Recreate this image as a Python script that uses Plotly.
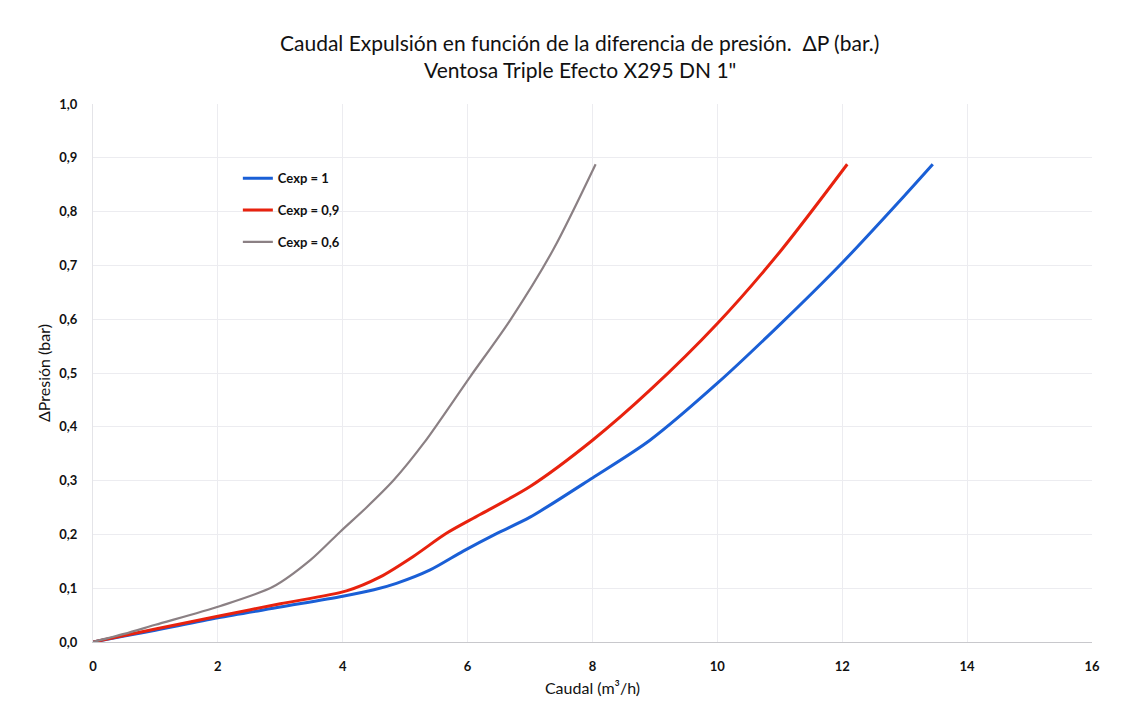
import plotly.graph_objects as go

# Caudal (m3/h) vs. pressure differential (bar) for three expulsion coefficients
caudal_c1 = [0.0, 0.5, 1.0, 2.0, 3.0, 4.0, 4.5, 4.86, 5.4, 5.93, 6.47, 7.0, 8.0, 8.92, 10.0, 11.0, 12.0, 13.0, 13.45]
presion_c1 = [0.0, 0.011, 0.022, 0.045, 0.065, 0.085, 0.097, 0.109, 0.134, 0.169, 0.202, 0.232, 0.305, 0.375, 0.481, 0.590, 0.705, 0.830, 0.888]

caudal_c09 = [0.0, 0.5, 1.0, 2.0, 3.0, 4.06, 4.6, 5.13, 5.66, 6.2, 7.0, 8.0, 8.92, 10.0, 11.0, 12.08]
presion_c09 = [0.0, 0.012, 0.024, 0.048, 0.071, 0.095, 0.121, 0.159, 0.202, 0.237, 0.289, 0.375, 0.468, 0.592, 0.725, 0.888]

caudal_c06 = [0.0, 0.5, 1.0, 2.04, 2.89, 3.48, 3.96, 4.38, 4.81, 5.3, 6.04, 6.68, 7.37, 8.05]
presion_c06 = [0.0, 0.015, 0.032, 0.067, 0.103, 0.152, 0.205, 0.250, 0.300, 0.370, 0.493, 0.598, 0.729, 0.888]

series = [
    ("Cexp = 1", caudal_c1, presion_c1, "#1a5fd6", 3),
    ("Cexp = 0,9", caudal_c09, presion_c09, "#e8220e", 3),
    ("Cexp = 0,6", caudal_c06, presion_c06, "#8b8084", 2.2),
]

x_ticks = [0, 2, 4, 6, 8, 10, 12, 14, 16]
y_ticks = [0.0, 0.1, 0.2, 0.3, 0.4, 0.5, 0.6, 0.7, 0.8, 0.9, 1.0]

title_lines = [
    "Caudal Expulsión en función de la diferencia de presión.  ΔP (bar.)",
    "Ventosa Triple Efecto X295 DN 1\"",
]

FONT = "Lato, 'Open Sans', sans-serif"

fig = go.Figure()
for i, (name, xs, ys, color, width) in enumerate(series):
    fig.add_trace(go.Scatter(
        x=xs, y=ys, mode="lines", name=name, legendgroup=f"g{i}",
        line=dict(color=color, width=width, shape="spline", smoothing=0.8),
    ))

# Two-line heading, placed above the plot area
for text, ypos in zip(title_lines, [1.1135, 1.0632]):
    fig.add_annotation(
        text=text, xref="paper", yref="paper", x=0.487, y=ypos,
        xanchor="center", yanchor="middle", showarrow=False,
        font=dict(size=21, family=FONT, color="#111111"),
    )

fig.update_layout(
    width=1128, height=722,
    paper_bgcolor="white", plot_bgcolor="white",
    margin=dict(l=93, r=36, t=104, b=80),
    separators=",.",
    font=dict(family=FONT, color="#222222"),
    legend=dict(
        x=0.145, y=0.89, xanchor="left", yanchor="top",
        bgcolor="rgba(0,0,0,0)", tracegroupgap=12,
        font=dict(size=13, family=FONT, color="#111111", weight="bold"),
    ),
    showlegend=True,
)

fig.update_xaxes(
    range=[0, 16], tickvals=x_ticks, ticktext=[str(v) for v in x_ticks],
    showgrid=True, gridcolor="#ececf0", gridwidth=1,
    zeroline=False, showline=True, linecolor="#c8c8cc", linewidth=1,
    ticks="", ticklabelstandoff=12,
    tickfont=dict(size=13, family=FONT, color="#111111", weight="bold"),
    title=dict(text="Caudal (m³/h)", font=dict(size=16, family=FONT, color="#111111"), standoff=10),
)
fig.update_yaxes(
    range=[0, 1.0], tickvals=y_ticks, tickformat=".1f",
    showgrid=True, gridcolor="#ececf0", gridwidth=1,
    zeroline=False, showline=True, linecolor="#e4e4e8", linewidth=1,
    ticks="", ticklabelstandoff=12,
    tickfont=dict(size=13, family=FONT, color="#111111", weight="bold"),
    title=dict(text="ΔPresión (bar)", font=dict(size=16, family=FONT, color="#111111"), standoff=4),
)

fig.write_html("out.html")
